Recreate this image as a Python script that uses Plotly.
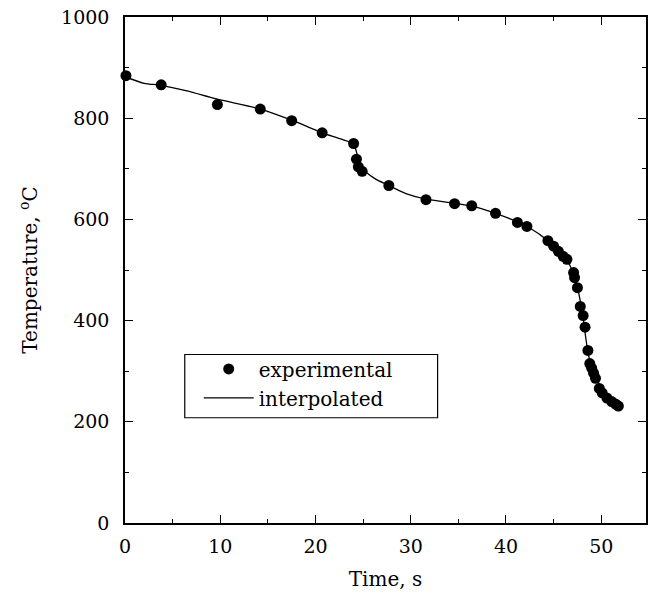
import plotly.graph_objects as go

# experimental points (time s, temperature °C)
exp_time = [-0.3, 0.1, 3.8, 9.7, 14.2, 17.5, 20.7, 24.0, 24.3, 24.5, 24.9, 27.7,
            31.6, 34.6, 36.4, 38.9, 41.2, 42.2, 44.4, 45.0, 45.5, 46.0, 46.4,
            47.1, 47.2, 47.5, 47.8, 48.1, 48.3, 48.6, 48.8, 49.0, 49.2, 49.4,
            49.8, 50.1, 50.6, 51.1, 51.5, 51.8]
exp_temp = [890, 884, 866, 827, 818, 795, 771, 750, 719, 704, 695, 667,
            639, 631, 627, 612, 594, 586, 558, 547, 537, 527, 521,
            495, 485, 465, 428, 410, 387, 341, 315, 306, 296, 286,
            266, 257, 247, 240, 235, 231]

# interpolated curve
int_time = [0.0, 2.0, 3.8, 6.5, 9.6, 14.2, 17.5, 20.7, 22.8, 24.0, 24.4, 25.0,
            26.2, 27.7, 29.5, 31.6, 34.6, 36.4, 38.9, 41.2, 42.5, 44.4, 45.5,
            46.4, 47.0, 47.5, 48.0, 48.5, 49.0, 49.5, 50.0, 50.6, 51.2, 51.8]
int_temp = [882, 869, 865, 854, 838, 818, 796, 771, 758, 748, 727, 700,
            681, 667, 651, 640, 632, 626, 612, 595, 583, 558, 538,
            519, 497, 465, 418, 350, 304, 283, 262, 247, 238, 231]

fig = go.Figure()
fig.add_trace(go.Scatter(
    x=exp_time, y=exp_temp, mode="markers", name="experimental",
    marker=dict(color="black", size=11), cliponaxis=False))
fig.add_trace(go.Scatter(
    x=int_time, y=int_temp, mode="lines", name="interpolated",
    line=dict(color="black", width=1.3, shape="spline", smoothing=0.8)))

# legend frame
fig.add_shape(type="rect", xref="paper", yref="paper",
              x0=0.1147, x1=0.600, y0=0.208, y1=0.333,
              line=dict(color="black", width=1.2), fillcolor="white", layer="below")

font = dict(family="DejaVu Serif", size=19, color="black")
fig.update_layout(
    width=654, height=598,
    margin=dict(l=125, r=6, t=13, b=75),
    paper_bgcolor="white", plot_bgcolor="white",
    font=font,
    showlegend=True,
    legend=dict(x=0.1415, y=0.343, xanchor="left", yanchor="top",
                borderwidth=0, bgcolor="rgba(0,0,0,0)",
                font=dict(family="DejaVu Serif", size=20, color="black"),
                itemwidth=50, tracegroupgap=0),
)
fig.update_xaxes(
    range=[0, 54.7], tickvals=[0, 10, 20, 30, 40, 50],
    ticks="inside", ticklen=8, tickwidth=1.2, tickcolor="black",
    minor=dict(ticks="inside", dtick=5, ticklen=4, tickcolor="black", tickwidth=1),
    showline=True, linecolor="black", linewidth=1.5, mirror="ticks",
    showgrid=False, zeroline=False,
    title=dict(text="Time, s", standoff=16, font=dict(size=20)), ticklabelstandoff=5)
fig.update_yaxes(
    range=[0, 1000], tickvals=[0, 200, 400, 600, 800, 1000],
    ticks="inside", ticklen=8, tickwidth=1.2, tickcolor="black",
    minor=dict(ticks="inside", dtick=100, ticklen=4, tickcolor="black", tickwidth=1),
    showline=True, linecolor="black", linewidth=1.5, mirror="ticks",
    showgrid=False, zeroline=False,
    title=dict(text="Temperature, <sup>o</sup>C", standoff=18, font=dict(size=20)),
    ticklabelstandoff=10)

fig.write_html("out.html")
